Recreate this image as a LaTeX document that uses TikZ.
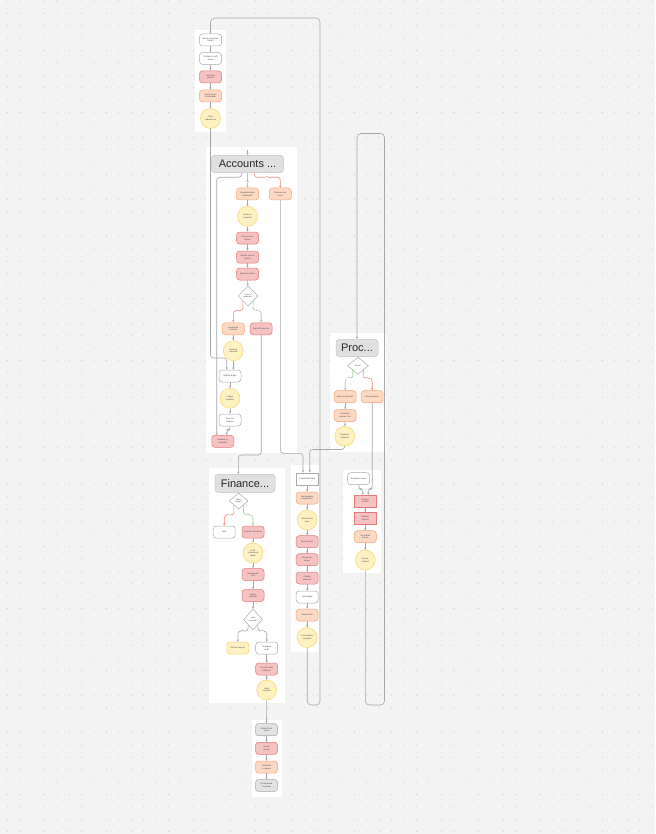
\documentclass[tikz,border=0pt]{standalone}
\usepackage{fontspec}
\setmainfont{Liberation Sans}
\usetikzlibrary{shapes.geometric,arrows.meta}

\definecolor{bggray}{HTML}{F3F3F3}
\definecolor{dotgray}{HTML}{C9C9C9}
\definecolor{textgray}{HTML}{444444}
\definecolor{flowgray}{HTML}{A6A6A6}
\definecolor{orangefill}{HTML}{FDD8C2}
\definecolor{orangeline}{HTML}{F3A676}
\definecolor{redfill}{HTML}{F7C2C2}
\definecolor{redline}{HTML}{E27878}
\definecolor{yellowfill}{HTML}{FFF2C2}
\definecolor{yellowline}{HTML}{F4D46A}
\definecolor{grayfill}{HTML}{E2E2E2}
\definecolor{grayline}{HTML}{A9A9A9}
\definecolor{headfill}{HTML}{E0E0E0}
\definecolor{headline}{HTML}{C2C2C2}
\definecolor{yesgreen}{HTML}{8ED694}
\definecolor{nored}{HTML}{EE8A78}

\begin{document}
\begin{tikzpicture}[x=1pt, y=-1pt,
  box/.style={rounded corners=3pt, line width=0.5pt, minimum width=22pt, minimum height=12pt,
    inner sep=0.3pt, align=center, text=textgray, font=\fontsize{2.1}{2.5}\selectfont},
  orangebox/.style={box, draw=orangeline, fill=orangefill},
  redbox/.style={box, draw=redline, fill=redfill},
  redrect/.style={redbox, rounded corners=0pt},
  whitebox/.style={box, draw=grayline, fill=white},
  whiterect/.style={whitebox, rounded corners=0pt},
  graybox/.style={box, draw=grayline, fill=grayfill},
  yellowdot/.style={circle, line width=0.5pt, draw=yellowline, fill=yellowfill, minimum size=20pt,
    inner sep=0pt, align=center, text=textgray, font=\fontsize{2.1}{2.5}\selectfont},
  decision/.style={diamond, line width=0.5pt, draw=grayline, fill=white, minimum width=20pt,
    minimum height=20pt, inner sep=0pt, align=center, text=textgray, font=\fontsize{1.9}{2.3}\selectfont},
  header/.style={rounded corners=3pt, line width=0.5pt, draw=headline, fill=headfill, inner sep=0pt,
    minimum height=17pt, font=\fontsize{11}{12}\selectfont, text=black!85},
  panel/.style={fill=white, draw=none},
  flow/.style={draw=flowgray, line width=0.6pt, rounded corners=3pt, -{Stealth[length=2.4pt,width=2.2pt]}},
  yesflow/.style={flow, draw=yesgreen},
  noflow/.style={flow, draw=nored},
  edgelabel/.style={fill=white, inner sep=0.3pt, text=textgray, font=\fontsize{1.8}{2}\selectfont}]

  \useasboundingbox (0,0) rectangle (655,834);
  \fill[bggray] (0,0) rectangle (655,834);

  % dot grid
  \foreach \i in {0,...,52}
    \foreach \j in {0,...,67}
      \fill[dotgray] (7.3+12.4*\i, 0.9+12.4*\j) circle (0.55pt);

  % panels
  \fill[panel] (195,30) rectangle (226,132);
  \fill[panel] (206,147) rectangle (297,453);
  \fill[panel] (330,333) rectangle (386,452);
  \fill[panel] (209,468) rectangle (285,703);
  \fill[panel] (291,465) rectangle (319,652);
  \fill[panel] (343,470) rectangle (381,573);
  \fill[panel] (252,720) rectangle (282,797);

  % start column
  \node[whitebox] (T1) at (210.5,40) {Month-end close\\kickoff};
  \node[whitebox] (T2) at (210.5,58.5) {Confirm cut-off\\dates};
  \node[redbox] (T3) at (210.5,77) {Lock prior\\period};
  \node[orangebox] (T4) at (210.5,96) {Notify teams\\of schedule};
  \node[yellowdot] (T5) at (210.5,118.5) {Close\\calendar set};
  \foreach \a/\b in {T1/T2,T2/T3,T3/T4,T4/T5}
    \draw[flow] (\a) -- (\b);

  % Accounts group
  \node[header, minimum width=72pt] (AH) at (247.5,164) {Accounts ...};
  \coordinate (AHin) at (247.5,150);
  \draw[flow] (AHin) -- (AH.north);
  \node[orangebox] (A1) at (247.5,194) {Reconcile bank\\statements};
  \node[orangebox] (A2) at (280.3,194) {Review open\\items};
  \node[yellowdot] (A3) at (247.5,216.3) {Bank rec\\complete};
  \node[redbox] (A4) at (247.5,238) {Post accrual\\entries};
  \node[redbox] (A5) at (247.5,257) {Review journal\\entries};
  \node[redbox] (A6) at (247.5,274) {Approve entries};
  \node[decision] (A7) at (248,296) {Entries\\balanced?};
  \node[orangebox] (A8) at (233.3,328.8) {Investigate\\variance};
  \node[redbox] (A10) at (261.2,328.8) {Sign-off accounts};
  \node[yellowdot] (A8b) at (233.3,350.7) {Variance\\resolved};
  \node[whitebox] (A9) at (230,376) {Update ledger};
  \node[yellowdot] (A9b) at (230,398.3) {Ledger\\updated};
  \node[whitebox] (A11) at (230,420) {Run trial\\balance};
  \node[redbox] (A12) at (222.8,441.3) {Escalate to\\controller};

  \draw[yesflow] (AH.south) -- (A1.north);
  \draw[noflow] ([xshift=6.8pt]AH.south) -- ++(0,4.5) -| (A2.north);
  \draw[flow] ([xshift=-5.8pt]AH.south) -- ++(0,4.5) -| ([xshift=-6.1pt]A12.north);
  \node[edgelabel] (lAHyes) at (247.5,182) {Yes};
  \node[edgelabel] (lAHno) at (266.7,177.2) {No};
  \foreach \a/\b in {A1/A3,A3/A4,A4/A5,A5/A6,A6/A7,A8/A8b,A9/A9b,A9b/A11}
    \draw[flow] (\a) -- (\b);
  \draw[noflow] (A7.south west) -- (243,310.7) -| (A8.north);
  \draw[yesflow] (A7.south east) -- (253,310.7) -| (A10.north);
  \node[edgelabel] (lA7no) at (237,310.7) {No};
  \node[edgelabel] (lA7yes) at (257,310.7) {Yes};
  \draw[flow] (A8b.south) -- ([xshift=3.3pt]A9.north);
  \draw[flow] (T5.south) -- (210.5,358) -| ([xshift=-3.3pt]A9.north);
  \draw[flow] (A11.south) -- ++(0,3.5) -| ([xshift=3.9pt]A12.north);

  % Proc group
  \node[header, minimum width=42pt] (PH) at (357,348) {Proc...};
  \node[decision, minimum width=21pt, minimum height=17pt] (P1) at (358,365.7) {Match?};
  \node[orangebox] (P2) at (345.2,396.7) {Approve payment};
  \node[orangebox] (P3) at (372.2,396.7) {Flag exception};
  \node[orangebox] (P4) at (345.2,415.5) {Schedule\\payment run};
  \node[yellowdot] (P5) at (344.7,436.3) {Payments\\released};
  \draw[yesflow] (P1.south west) -- (353,378.3) -| (P2.north);
  \draw[noflow] (P1.south east) -- (363,378.3) -| (P3.north);
  \node[edgelabel] (lP1yes) at (349,378.3) {Yes};
  \node[edgelabel] (lP1no) at (367,378.3) {No};
  \draw[flow] (P2) -- (P4);
  \draw[flow] (P4) -- (P5);

  % Finance group
  \node[header, minimum width=60pt, minimum height=18pt] (FH) at (245,483.3) {Finance...};
  \node[decision, minimum width=19pt, minimum height=16pt] (F1) at (238.7,501) {Within\\budget?};
  \node[whitebox] (F2) at (224.2,532) {Hold};
  \node[redbox] (F3) at (253,532) {Prepare statements};
  \node[yellowdot] (F4) at (253,553) {Draft\\statements\\ready};
  \node[redbox] (F5) at (253,574.5) {Review with\\CFO};
  \node[redbox] (F6) at (253,595.5) {Adjust\\forecast};
  \node[decision, minimum width=19pt, minimum height=21pt] (F7) at (253,619.5) {Audit\\required?};
  \node[box, draw=yellowline, fill=yellowfill] (F8) at (237.8,648) {Archive reports};
  \node[whitebox] (F9) at (266.7,648) {Schedule\\audit};
  \node[redbox] (F10) at (266.7,669) {Provide audit\\evidence};
  \node[yellowdot] (F11) at (266.7,690) {Audit\\complete};
  \draw[flow] (A10.south) -- (261.2,455) -| ([xshift=-6.7pt]FH.north);
  \draw[noflow] (F1.south west) -- (233.9,515) -| (F2.north);
  \draw[yesflow] (F1.south east) -- (243.5,515) -| (F3.north);
  \node[edgelabel] (lF1no) at (228.5,515) {No};
  \node[edgelabel] (lF1yes) at (248.5,515) {Yes};
  \foreach \a/\b in {F3/F4,F4/F5,F5/F6,F6/F7,F9/F10,F10/F11}
    \draw[flow] (\a) -- (\b);
  \draw[flow] (F7.south west) -- (248.2,631) -| (F8.north);
  \draw[flow] (F7.south east) -- (257.8,631) -| (F9.north);
  \node[edgelabel] (lF7no) at (243,631) {No};
  \node[edgelabel] (lF7yes) at (262.5,631) {Yes};

  % wrap-up column
  \node[graybox] (B1) at (266.5,729.7) {Publish final\\report};
  \node[redbox] (B2) at (266.5,748.3) {Board\\review};
  \node[orangebox] (B3) at (266.5,767) {Distribute\\to owners};
  \node[graybox] (B4) at (266.5,785.5) {Close period\\in system};
  \draw[flow] (F11.south) -- (B1.north);
  \foreach \a/\b in {B1/B2,B2/B3,B3/B4}
    \draw[flow] (\a) -- (\b);

  % consolidation column
  \node[whiterect] (M1) at (307.2,478.8) {Consolidate data};
  \node[orangebox] (M2) at (307.2,498) {Intercompany\\eliminations};
  \node[yellowdot] (M3) at (307.2,520) {Eliminations\\done};
  \node[redbox] (M4) at (307.2,541.7) {Tax provision};
  \node[redbox] (M5) at (307.2,559.7) {Review tax\\impact};
  \node[redbox] (M6) at (307.2,578) {Finalize\\balances};
  \node[whitebox] (M7) at (307.2,597) {Lock ledger};
  \node[orangebox] (M8) at (307.2,615) {Export data};
  \node[yellowdot] (M9) at (307.2,637.5) {Consolidation\\complete};
  \draw[flow] (A2.south) -- (280.3,453.3) -| ([xshift=-4.2pt]M1.north);
  \draw[flow] (P5.south) -- (344.7,449.5) -| ([xshift=2.5pt]M1.north);
  \foreach \a/\b in {M1/M2,M2/M3,M3/M4,M4/M5,M5/M6,M6/M7,M7/M8,M8/M9}
    \draw[flow] (\a) -- (\b);

  % exception column
  \node[whitebox] (R1) at (358.7,478.7) {Exception queue};
  \node[redrect] (R2) at (365.3,501) {Contact\\vendor};
  \node[redrect] (R3) at (365.3,518.5) {Resolve\\dispute};
  \node[orangebox] (R4) at (365.3,536.7) {Re-submit\\invoice};
  \node[yellowdot] (R5) at (365.3,560) {Invoice\\cleared};
  \draw[flow] (P3.south) -- (372.2,489) -| ([xshift=3pt]R2.north);
  \draw[flow] (R1.south) -- (358.7,489) -| ([xshift=-2.6pt]R2.north);
  \foreach \a/\b in {R2/R3,R3/R4,R4/R5}
    \draw[flow] (\a) -- (\b);

  % loops back
  \draw[flow, rounded corners=4pt] (M9.south) -- (307.2,705) -- (320,705) -- (320,18) -| (T1.north);
  \draw[flow, rounded corners=4pt] (R5.south) -- (365.3,705) -- (384.5,705) -- (384.5,133.5) -| (PH.north);
\end{tikzpicture}
\end{document}
